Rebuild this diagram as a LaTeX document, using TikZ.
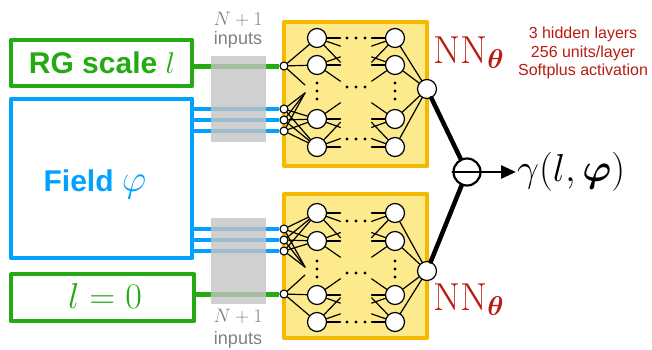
\RequirePackage{fix-cm}
\documentclass[tikz,border=0pt]{standalone}
\usepackage{amsmath}
\usepackage{fontspec}
\setsansfont{Liberation Sans}
\usetikzlibrary{calc,arrows.meta}

\definecolor{rggreen}{RGB}{36,170,18}
\definecolor{fieldblue}{RGB}{0,162,255}
\definecolor{nnorange}{RGB}{247,184,0}
\definecolor{nnyellow}{RGB}{253,234,140}
\definecolor{nnred}{RGB}{184,28,16}
\definecolor{ingray}{RGB}{196,196,196}
\definecolor{lblgray}{RGB}{128,128,128}

\tikzset{
  inbox/.style={draw, line width=4pt, inner sep=0pt},
  neuron/.style={circle, draw, fill=white, line width=1.2pt, minimum size=19pt, inner sep=0pt},
  innode/.style={circle, draw, fill=white, line width=1.1pt, minimum size=8pt, inner sep=0pt},
  wire/.style={line width=1.2pt},
  bigsans/.style={font=\fontsize{30}{36}\selectfont\sffamily\bfseries},
}

\begin{document}
\begin{tikzpicture}[x=1pt, y=-1pt, line cap=round, line join=round]

  %% ════ 左侧三个输入框 ════
  \node[inbox, draw=rggreen, minimum width=181.3pt, minimum height=45.4pt] (rg) at (101.7,63) {};
  \node[inbox, draw=fieldblue, minimum width=181.3pt, minimum height=159.3pt] (fld) at (101.7,178.4) {};
  \node[inbox, draw=rggreen, minimum width=182.7pt, minimum height=47pt] (lz) at (102.6,297.8) {};

  \node[bigsans, text=rggreen, anchor=base, inner sep=0pt] (rgtxt) at (102,73.3) {RG scale $l$};
  \node[bigsans, text=fieldblue, anchor=base, inner sep=0pt] (fldtxt) at (95,191.7) {Field {\fontsize{38}{44}\selectfont$\varphi$}};
  \node[text=rggreen, anchor=base, inner sep=0pt, font=\fontsize{36}{43}\selectfont] (lztxt) at (105,308.3) {$l=0$};

  %% ════ 两个网络：下面那个是上面的上下镜像（轴 y=180）════
  \foreach \s/\p/\g in {1/t/rg,-1/b/lz}{
    \begin{scope}[shift={(0,180)}, yscale=\s]
      \draw[line width=4.5pt, draw=nnorange, fill=nnyellow] (284,-158) rectangle (427,-14);

      % 节点
      \foreach \y [count=\i] in {-142,-115,-61,-33}{
        \node[neuron] (\p-a\i) at (317,\y) {};
        \node[neuron] (\p-z\i) at (395,\y) {};
      }
      \node[neuron] (\p-out) at (427,-91) {};
      \node[innode] (\p-in0) at (284,-114) {};
      \foreach \y [count=\k] in {-71,-60,-49}
        \node[innode] (\p-in\k) at (284,\y) {};
      \coordinate (\p-gu) at (305,-95);
      \coordinate (\p-gd) at (305,-87);

      % 输入线 + 灰条
      \draw[line width=5pt, rggreen, line cap=butt] (\g.east |- \p-in0) -- (\p-in0);
      \foreach \k in {1,2,3}
        \draw[line width=4pt, fieldblue, line cap=butt] (fld.east |- \p-in\k) -- (\p-in\k);
      \fill[ingray, fill opacity=0.8] (211,-124) rectangle (266,-38);

      % 连线
      \draw[wire] (\p-in0) -- (\p-a1);
      \draw[wire] (\p-in0) -- (\p-a2);
      \draw[wire] (\p-in0) -- (\p-gu);
      \foreach \k in {1,2,3}{
        \draw[wire] (\p-in\k) -- (\p-a3);
        \draw[wire] (\p-in\k) -- (\p-a4);
        \draw[wire] (\p-in\k) -- (\p-gd);
      }
      \foreach \i/\js in {1/{1,2,3},2/{1,2,3},3/{2,3,4},4/{2,3,4}}
        \foreach \j in \js {
          \draw[wire] (\p-a\i) -- ($(\p-a\i)!0.3!(\p-z\j)$);
          \draw[wire] (\p-z\i) -- ($(\p-z\i)!0.3!(\p-a\j)$);
        }
      \foreach \i in {1,...,4}
        \draw[wire] (\p-z\i) -- (\p-out);

      % 省略号
      \foreach \y in {-97,-89,-81}{
        \fill (317,\y) circle (1.6);
        \fill (395,\y) circle (1.6);
      }
      \foreach \x in {347,356,365}{
        \fill (\x,-142) circle (1.6);
        \fill (\x,-93) circle (1.6);
        \fill (\x,-41) circle (1.6);
      }
    \end{scope}
  }

  %% ════ 输入个数标注 ════
  \node[text=lblgray, anchor=base, inner sep=0pt, font=\fontsize{19.5}{23}\selectfont] (ntop) at (238,25) {$N+1$};
  \node[text=lblgray, anchor=base, inner sep=0pt, font=\fontsize{18}{22}\selectfont\sffamily] (itop) at (238,44) {inputs};
  \node[text=lblgray, anchor=base, inner sep=0pt, font=\fontsize{19.5}{23}\selectfont] (nbot) at (238,322) {$N+1$};
  \node[text=lblgray, anchor=base, inner sep=0pt, font=\fontsize{18}{22}\selectfont\sffamily] (ibot) at (238,344) {inputs};

  %% ════ 网络名与超参数 ════
  \node[text=nnred, anchor=base west, inner sep=0pt, font=\fontsize{39}{47}\selectfont] (nntop) at (433,63) {$\mathrm{NN}_{\boldsymbol{\theta}}$};
  \node[text=nnred, anchor=base west, inner sep=0pt, font=\fontsize{39}{47}\selectfont] (nnbot) at (433,310) {$\mathrm{NN}_{\boldsymbol{\theta}}$};
  \node[text=nnred, align=center, inner sep=0pt, font=\fontsize{16}{18.5}\selectfont\sffamily] (spec) at (583,53) {3 hidden layers\\256 units/layer\\Softplus activation};

  %% ════ 相减 → γ ════
  \node[circle, draw, line width=2.2pt, minimum size=27pt, inner sep=0pt] (comb) at (467,172) {};
  \draw[line width=2pt] (comb.west) -- (comb.east);
  \draw[line width=4.5pt] (t-out) -- (comb);
  \draw[line width=4.5pt] (b-out) -- (comb);
  \node[anchor=west, inner sep=1pt, font=\fontsize{39}{47}\selectfont] (gam) at (516,172) {$\gamma(l,\boldsymbol{\varphi})$};
  \draw[line width=2.8pt, -{Triangle[length=15pt,width=13pt]}] (comb) -- (gam);

  \pgfresetboundingbox
  \path[use as bounding box] (0,0) rectangle (652,349);
\end{tikzpicture}
\end{document}
